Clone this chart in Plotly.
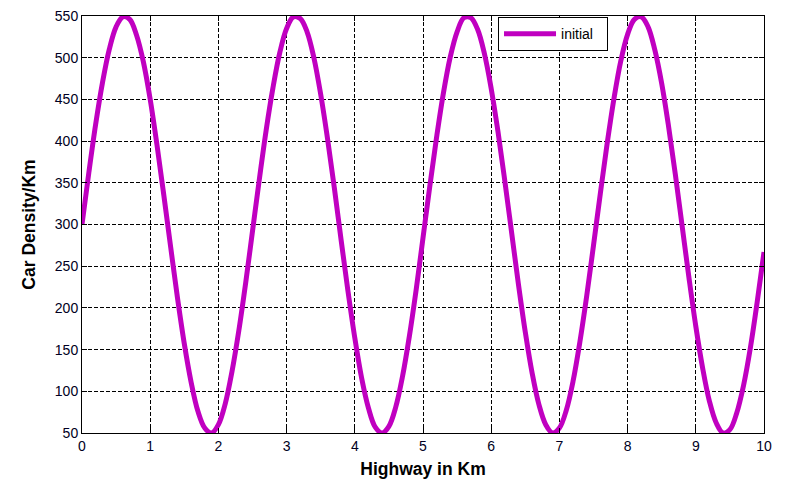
import plotly.graph_objects as go

# Highway position (km) and car density (cars/km)
highway_km = [round(0.1 * i, 1) for i in range(101)]
density = [300, 362, 420, 470, 510, 537, 549, 546, 527, 495,
           450, 395, 335, 273, 212, 157, 111, 76, 56, 50,
           60, 85, 124, 173, 230, 292, 354, 413, 464, 506,
           535, 549, 547, 531, 500, 456, 403, 344, 281, 220,
           164, 116, 80, 57, 50, 58, 81, 118, 166, 222,
           284, 346, 405, 458, 501, 531, 548, 548, 534, 505,
           463, 411, 352, 290, 228, 171, 122, 84, 60, 50,
           56, 77, 112, 159, 214, 275, 337, 397, 451, 496,
           528, 546, 549, 537, 509, 469, 418, 360, 298, 236,
           178, 128, 88, 62, 50, 54, 74, 107, 152, 207,
           267]
x_ticks = [0, 1, 2, 3, 4, 5, 6, 7, 8, 9, 10]
y_ticks = [50, 100, 150, 200, 250, 300, 350, 400, 450, 500, 550]

fig = go.Figure()
fig.add_trace(go.Scatter(x=highway_km, y=density, mode="lines", name="initial",
                         line=dict(color="#C000C0", width=5, shape="spline")))

axis_common = dict(showline=True, linecolor="black", linewidth=1, mirror="ticks",
                   ticks="inside", ticklen=5, tickcolor="black",
                   showgrid=True, gridcolor="black", gridwidth=1, griddash="4px,2px",
                   zeroline=False, automargin=False, ticklabeloverflow="allow",
                   tickfont=dict(family="Liberation Sans, Arial", size=14, color="#000022"))

title_font = dict(family="Liberation Sans, Arial", size=17.5, color="black")

fig.update_xaxes(range=[0, 10], tickvals=x_ticks, ticktext=[str(v) for v in x_ticks],
                 title=dict(text="<b>Highway in Km</b>", standoff=9, font=title_font),
                 **axis_common)
fig.update_yaxes(range=[50, 550], tickvals=y_ticks, ticktext=[str(v) for v in y_ticks],
                 title=dict(text="<b>Car Density/Km</b>", standoff=14, font=title_font),
                 **axis_common)

fig.update_layout(
    width=777, height=474,
    margin=dict(l=74, r=21, t=8, b=49),
    paper_bgcolor="white", plot_bgcolor="white",
    showlegend=True,
    legend=dict(x=0.61, y=0.997, xanchor="left", yanchor="top",
                orientation="h", entrywidth=41, itemwidth=52,
                bgcolor="white", bordercolor="black", borderwidth=1,
                font=dict(family="Liberation Sans, Arial", size=14, color="black")),
)

fig.write_html("out.html")
